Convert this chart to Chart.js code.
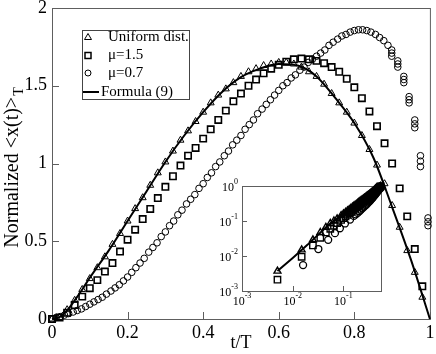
<!DOCTYPE html>
<html>
<head>
<meta charset="utf-8">
<script src="https://cdn.jsdelivr.net/npm/chart.js@4.4.0/dist/chart.umd.min.js"></script>
<style>
  html, body { margin: 0; padding: 0; background: #fff; }
  #wrap { position: relative; width: 436px; height: 354px; }
  #main { position: absolute; left: 0; top: 0; }
  #inset { position: absolute; left: 200px; top: 176px; }
</style>
</head>
<body>
<div id="wrap">
  <canvas id="main" width="436" height="354"></canvas>
  <canvas id="inset" width="190" height="140"></canvas>
</div>
<script>
// main plot: t/T grid shared by triangles and squares
const tGrid = [0, 0.02, 0.04, 0.06, 0.08, 0.1, 0.12, 0.14, 0.16, 0.18,
  0.2, 0.22, 0.24, 0.26, 0.28, 0.3, 0.32, 0.34, 0.36, 0.38,
  0.4, 0.42, 0.44, 0.46, 0.48, 0.5, 0.52, 0.54, 0.56, 0.58,
  0.6, 0.62, 0.64, 0.66, 0.68, 0.7, 0.72, 0.74, 0.76, 0.78,
  0.8, 0.82, 0.84, 0.86, 0.88, 0.9, 0.92, 0.94, 0.96, 0.98];

const uniformY = [0.0, 0.01, 0.06, 0.12, 0.19, 0.26, 0.33, 0.40, 0.48, 0.55,
  0.63, 0.71, 0.78, 0.86, 0.94, 1.01, 1.08, 1.15, 1.21, 1.27,
  1.33, 1.39, 1.44, 1.48, 1.52, 1.56, 1.59, 1.61, 1.63, 1.64,
  1.65, 1.65, 1.64, 1.62, 1.59, 1.56, 1.51, 1.45, 1.39, 1.33,
  1.26, 1.18, 1.09, 0.99, 0.87, 0.73, 0.59, 0.44, 0.30, 0.14];

const mu15Y = [0.0, 0.01, 0.04, 0.09, 0.144, 0.198, 0.25, 0.305, 0.36, 0.434,
  0.51, 0.574, 0.643, 0.708, 0.778, 0.85, 0.918, 0.987, 1.05, 1.10,
  1.16, 1.22, 1.28, 1.34, 1.40, 1.45, 1.50, 1.54, 1.58, 1.61,
  1.635, 1.655, 1.67, 1.675, 1.67, 1.66, 1.645, 1.62, 1.59, 1.545,
  1.49, 1.42, 1.335, 1.24, 1.13, 1.00, 0.84, 0.66, 0.45, 0.21];

const mu07T = [0, 0.011, 0.022, 0.033, 0.044, 0.056, 0.067, 0.078, 0.089, 0.1,
  0.111, 0.122, 0.133, 0.144, 0.156, 0.167, 0.178, 0.189, 0.2, 0.211,
  0.222, 0.233, 0.244, 0.256, 0.267, 0.278, 0.289, 0.3, 0.311, 0.322,
  0.333, 0.344, 0.356, 0.367, 0.378, 0.389, 0.4, 0.411, 0.422, 0.433,
  0.444, 0.456, 0.467, 0.478, 0.489, 0.5, 0.511, 0.522, 0.533, 0.544,
  0.556, 0.567, 0.578, 0.589, 0.6, 0.611, 0.622, 0.633, 0.644, 0.656,
  0.667, 0.678, 0.689, 0.7, 0.711, 0.722, 0.733, 0.744, 0.756, 0.767,
  0.778, 0.789, 0.8, 0.811, 0.822, 0.833, 0.844, 0.856, 0.867, 0.878,
  0.889,
  0.899, 0.899, 0.899, 0.915, 0.915, 0.915, 0.931, 0.931, 0.931,
  0.945, 0.945, 0.945, 0.96, 0.96, 0.96, 0.975, 0.975, 0.975,
  0.995, 0.995, 0.995];

const mu07Y = [0.00, 0.01, 0.015, 0.025, 0.035, 0.045, 0.055, 0.065, 0.08, 0.095,
  0.11, 0.125, 0.14, 0.16, 0.18, 0.20, 0.22, 0.245, 0.27, 0.30,
  0.33, 0.36, 0.39, 0.43, 0.46, 0.49, 0.53, 0.56, 0.60, 0.63,
  0.67, 0.70, 0.74, 0.77, 0.80, 0.84, 0.87, 0.91, 0.94, 0.98,
  1.01, 1.05, 1.08, 1.12, 1.15, 1.18, 1.22, 1.25, 1.28, 1.32,
  1.35, 1.38, 1.41, 1.44, 1.47, 1.50, 1.52, 1.55, 1.57, 1.60,
  1.62, 1.65, 1.67, 1.69, 1.71, 1.73, 1.76, 1.78, 1.80, 1.82,
  1.83, 1.845, 1.855, 1.86, 1.86, 1.855, 1.845, 1.83, 1.81, 1.79,
  1.76,
  1.73, 1.71, 1.69, 1.66, 1.64, 1.62, 1.56, 1.54, 1.52,
  1.43, 1.41, 1.39, 1.28, 1.255, 1.23, 1.05, 1.015, 0.98,
  0.65, 0.625, 0.60];

const formulaT = [0, 0.02, 0.04, 0.06, 0.08, 0.1, 0.15, 0.2, 0.25, 0.3, 0.35, 0.4,
  0.45, 0.5, 0.55, 0.6, 0.65, 0.7, 0.75, 0.8, 0.85, 0.9, 0.95, 1.0];
const formulaY = [0, 0.012, 0.055, 0.12, 0.19, 0.265, 0.44, 0.63, 0.82, 1.01, 1.18, 1.33,
  1.46, 1.555, 1.61, 1.64, 1.63, 1.56, 1.42, 1.26, 1.04, 0.72, 0.38, 0];

const xTicks = [0, 0.2, 0.4, 0.6, 0.8, 1];
const yTicks = [0, 0.5, 1, 1.5, 2];

// inset (log-log)
const insT = [0.005, 0.015, 0.025, 0.035, 0.045, 0.055, 0.065, 0.075,
  0.09, 0.1, 0.11, 0.12, 0.13, 0.14, 0.15, 0.16, 0.17, 0.18, 0.19, 0.2,
  0.21, 0.22, 0.23, 0.24, 0.25, 0.26, 0.27, 0.28, 0.29, 0.3,
  0.31, 0.32, 0.33, 0.34, 0.35, 0.36, 0.37, 0.38, 0.39, 0.4,
  0.41, 0.42, 0.43, 0.44, 0.45, 0.46, 0.47, 0.48, 0.49, 0.5,
  0.51, 0.52, 0.53, 0.54];
const insUniform = [0.0037, 0.015, 0.029, 0.047, 0.066, 0.085, 0.10, 0.115,
  0.143, 0.16, 0.177, 0.195, 0.212, 0.23, 0.248, 0.265, 0.283, 0.30, 0.32, 0.34,
  0.357, 0.375, 0.393, 0.41, 0.43, 0.45, 0.467, 0.485, 0.503, 0.52,
  0.537, 0.555, 0.572, 0.59, 0.61, 0.63, 0.648, 0.665, 0.683, 0.70,
  0.718, 0.735, 0.755, 0.775, 0.793, 0.81, 0.83, 0.85, 0.87, 0.89,
  0.91, 0.93, 0.95, 0.97];
const insMu15 = [0.0021, 0.0095, 0.02, 0.033, 0.047, 0.06, 0.073, 0.087,
  0.107, 0.12, 0.135, 0.15, 0.165, 0.18, 0.195, 0.21, 0.228, 0.245, 0.262, 0.28,
  0.295, 0.31, 0.33, 0.35, 0.365, 0.38, 0.40, 0.42, 0.437, 0.455,
  0.472, 0.49, 0.51, 0.53, 0.55, 0.57, 0.59, 0.61, 0.63, 0.65,
  0.67, 0.69, 0.71, 0.73, 0.755, 0.78, 0.805, 0.83, 0.855, 0.88,
  0.905, 0.93, 0.955, 0.98];
const insMu07T = [0.016, 0.032, 0.05, 0.068, 0.085, 0.107, 0.135, 0.16, 0.175, 0.19,
  0.205, 0.22, 0.235, 0.25, 0.265, 0.28, 0.295, 0.31, 0.325, 0.34,
  0.355, 0.37, 0.385, 0.4, 0.415, 0.43, 0.445, 0.46, 0.475, 0.49,
  0.505, 0.52, 0.53, 0.54];
const insMu07 = [0.0055, 0.0158, 0.029, 0.045, 0.062, 0.085, 0.11, 0.14, 0.155, 0.17,
  0.19, 0.21, 0.23, 0.25, 0.27, 0.29, 0.315, 0.34, 0.365, 0.39,
  0.42, 0.45, 0.485, 0.52, 0.555, 0.59, 0.63, 0.67, 0.715, 0.76,
  0.815, 0.87, 0.92, 0.97];
const insLineT = [0.005, 0.01, 0.02, 0.05, 0.1, 0.2, 0.3, 0.4, 0.5, 0.55];
const insLineY = [0.0037, 0.0088, 0.0215, 0.075, 0.16, 0.34, 0.52, 0.70, 0.89, 1.0];
const insXTicks = [0.001, 0.01, 0.1];
const insYTicks = [0.001, 0.01, 0.1, 1];

const SERIF = '"Liberation Serif", "Times New Roman", serif';
const FRAME = '#5e5e5e';
const pts = (xs, ys) => xs.map((x, i) => ({ x: x, y: ys[i] }));
const fmt = v => String(Math.round(v * 100) / 100);

function markerSet(style, r, bw, order) {
  return {
    showLine: false, pointStyle: style, pointRadius: r, pointBorderWidth: bw,
    pointBorderColor: '#000', pointBackgroundColor: 'rgba(0,0,0,0)',
    pointHoverRadius: r, clip: false, order: order
  };
}

// stop chart.js from reserving room for the end labels
function noPadX(s) { s.paddingLeft = 0; s.paddingRight = 0; }
function noPadY(s) { s.paddingTop = 0; s.paddingBottom = 0; }

function frameTicks(len) {
  return {
    id: 'frameTicks',
    beforeDatasetsDraw(chart) {
      const ctx = chart.ctx, a = chart.chartArea, sx = chart.scales.x, sy = chart.scales.y;
      ctx.save();
      ctx.strokeStyle = FRAME;
      ctx.lineWidth = 1;
      ctx.strokeRect(a.left + 0.5, a.top + 0.5, a.right - a.left, a.bottom - a.top);
      ctx.beginPath();
      sx.ticks.forEach(t => {
        const px = Math.round(sx.getPixelForValue(t.value)) + 0.5;
        ctx.moveTo(px, a.bottom); ctx.lineTo(px, a.bottom - len);
      });
      sy.ticks.forEach(t => {
        const py = Math.round(sy.getPixelForValue(t.value)) + 0.5;
        ctx.moveTo(a.left, py); ctx.lineTo(a.left + len, py);
      });
      ctx.stroke();
      ctx.restore();
    }
  };
}

const mainText = {
  id: 'mainText',
  afterDraw(chart) {
    const ctx = chart.ctx, a = chart.chartArea;
    ctx.save();
    ctx.fillStyle = '#000';
    ctx.font = '18px ' + SERIF;
    ctx.textAlign = 'center';
    ctx.textBaseline = 'middle';
    ctx.fillText('t/T', (a.left + a.right) / 2, 343);

    // y title with subscript T
    ctx.translate(13, 168);
    ctx.rotate(-Math.PI / 2);
    ctx.textAlign = 'left';
    const main = 'Normalized <x(t)>';
    ctx.font = '20px ' + SERIF;
    const w1 = ctx.measureText(main).width;
    ctx.font = '14px ' + SERIF;
    const w2 = ctx.measureText('T').width;
    const x0 = -(w1 + w2) / 2;
    ctx.font = '20px ' + SERIF;
    ctx.fillText(main, x0, 0);
    ctx.font = '14px ' + SERIF;
    ctx.fillText('T', x0 + w1 + 1, 6);
    ctx.restore();

    // legend
    ctx.save();
    ctx.fillStyle = '#fff';
    ctx.fillRect(82.5, 30.5, 107, 69);
    ctx.strokeStyle = '#444';
    ctx.lineWidth = 1;
    ctx.strokeRect(82.5, 30.5, 107, 69);
    ctx.strokeStyle = '#000';
    ctx.fillStyle = '#000';
    ctx.beginPath();
    ctx.moveTo(88, 33.5); ctx.lineTo(91.5, 39.5); ctx.lineTo(84.5, 39.5); ctx.closePath();
    ctx.stroke();
    ctx.lineWidth = 1.5;
    ctx.strokeRect(85, 52.5, 6, 6);
    ctx.lineWidth = 1;
    ctx.beginPath(); ctx.arc(88, 73, 3, 0, Math.PI * 2); ctx.stroke();
    ctx.lineWidth = 2;
    ctx.beginPath(); ctx.moveTo(83, 92); ctx.lineTo(99, 92); ctx.stroke();
    ctx.font = '15px ' + SERIF;
    ctx.textAlign = 'left';
    ctx.textBaseline = 'middle';
    ctx.fillText('Uniform dist.', 108, 37.5);
    ctx.fillText('\u03bc=1.5', 108, 55.5);
    ctx.fillText('\u03bc=0.7', 108, 73.5);
    ctx.fillText('Formula (9)', 101, 92.5);
    ctx.restore();
  }
};

new Chart(document.getElementById('main'), {
  type: 'scatter',
  data: {
    datasets: [
      { data: pts(formulaT, formulaY), showLine: true, borderColor: '#000',
        borderWidth: 2, pointRadius: 0, cubicInterpolationMode: 'monotone', clip: false, order: 0 },
      Object.assign({ data: pts(tGrid, uniformY) }, markerSet('triangle', 4, 1, 1)),
      Object.assign({ data: pts(tGrid, mu15Y) }, markerSet('rect', 4.5, 1.6, 2)),
      Object.assign({ data: pts(mu07T, mu07Y) }, markerSet('circle', 3.3, 1, 3))
    ]
  },
  options: {
    responsive: false,
    animation: false,
    events: [],
    layout: { padding: { top: 8, right: 5, left: 0, bottom: 0 } },
    plugins: { legend: { display: false }, tooltip: { enabled: false } },
    scales: {
      x: {
        type: 'linear', min: 0, max: 1,
        afterBuildTicks: s => { s.ticks = xTicks.map(v => ({ value: v })); },
        afterFit: s => { s.height = 35; noPadX(s); },
        grid: { display: false, drawTicks: false },
        border: { display: false },
        ticks: { color: '#000', padding: 3, maxRotation: 0, callback: fmt,
          font: { family: SERIF, size: 18 } }
      },
      y: {
        type: 'linear', min: 0, max: 2,
        afterBuildTicks: s => { s.ticks = yTicks.map(v => ({ value: v })); },
        afterFit: s => { s.width = 52; noPadY(s); },
        grid: { display: false, drawTicks: false },
        border: { display: false },
        ticks: { color: '#000', padding: 5, callback: fmt, font: { family: SERIF, size: 18 } }
      }
    }
  },
  plugins: [frameTicks(7), mainText]
});

const insetText = {
  id: 'insetText',
  afterDraw(chart) {
    const ctx = chart.ctx, a = chart.chartArea, sx = chart.scales.x, sy = chart.scales.y;
    ctx.save();
    ctx.fillStyle = '#000';
    ctx.textBaseline = 'middle';
    ctx.textAlign = 'left';
    const big = '12px ' + SERIF, small = '8px ' + SERIF;
    insYTicks.forEach(v => {
      const py = sy.getPixelForValue(v);
      const e = String(Math.round(Math.log10(v)));
      ctx.font = small; const we = ctx.measureText(e).width;
      ctx.font = big; const wb = ctx.measureText('10').width;
      const right = a.left - 4;
      ctx.font = big; ctx.fillText('10', right - we - wb, py + 2);
      ctx.font = small; ctx.fillText(e, right - we, py - 4);
    });
    insXTicks.forEach(v => {
      const px = sx.getPixelForValue(v);
      const e = String(Math.round(Math.log10(v)));
      ctx.font = small; const we = ctx.measureText(e).width;
      ctx.font = big; const wb = ctx.measureText('10').width;
      const left = px - (we + wb) / 2;
      ctx.font = big; ctx.fillText('10', left, a.bottom + 11);
      ctx.font = small; ctx.fillText(e, left + wb, a.bottom + 5);
    });
    ctx.restore();
  }
};

new Chart(document.getElementById('inset'), {
  type: 'scatter',
  data: {
    datasets: [
      { data: pts(insLineT, insLineY), showLine: true, borderColor: '#000', borderWidth: 2,
        pointRadius: 0, clip: false, order: 0 },
      Object.assign({ data: pts(insT, insUniform) }, markerSet('triangle', 4, 1.4, 1)),
      Object.assign({ data: pts(insT, insMu15) }, markerSet('rect', 4.5, 1.4, 2)),
      Object.assign({ data: pts(insMu07T, insMu07) }, markerSet('circle', 3.5, 1.3, 3))
    ]
  },
  options: {
    responsive: false,
    animation: false,
    events: [],
    layout: { padding: { top: 10, right: 9, left: 0, bottom: 0 } },
    plugins: { legend: { display: false }, tooltip: { enabled: false } },
    scales: {
      x: {
        type: 'logarithmic', min: 0.001, max: 0.55,
        afterBuildTicks: s => { s.ticks = insXTicks.map(v => ({ value: v })); },
        afterFit: s => { s.height = 25; noPadX(s); },
        grid: { display: false, drawTicks: false },
        border: { display: false },
        ticks: { display: false }
      },
      y: {
        type: 'logarithmic', min: 0.001, max: 1,
        afterBuildTicks: s => { s.ticks = insYTicks.map(v => ({ value: v })); },
        afterFit: s => { s.width = 42; noPadY(s); },
        grid: { display: false, drawTicks: false },
        border: { display: false },
        ticks: { display: false }
      }
    }
  },
  plugins: [frameTicks(5), insetText]
});
</script>
</body>
</html>
